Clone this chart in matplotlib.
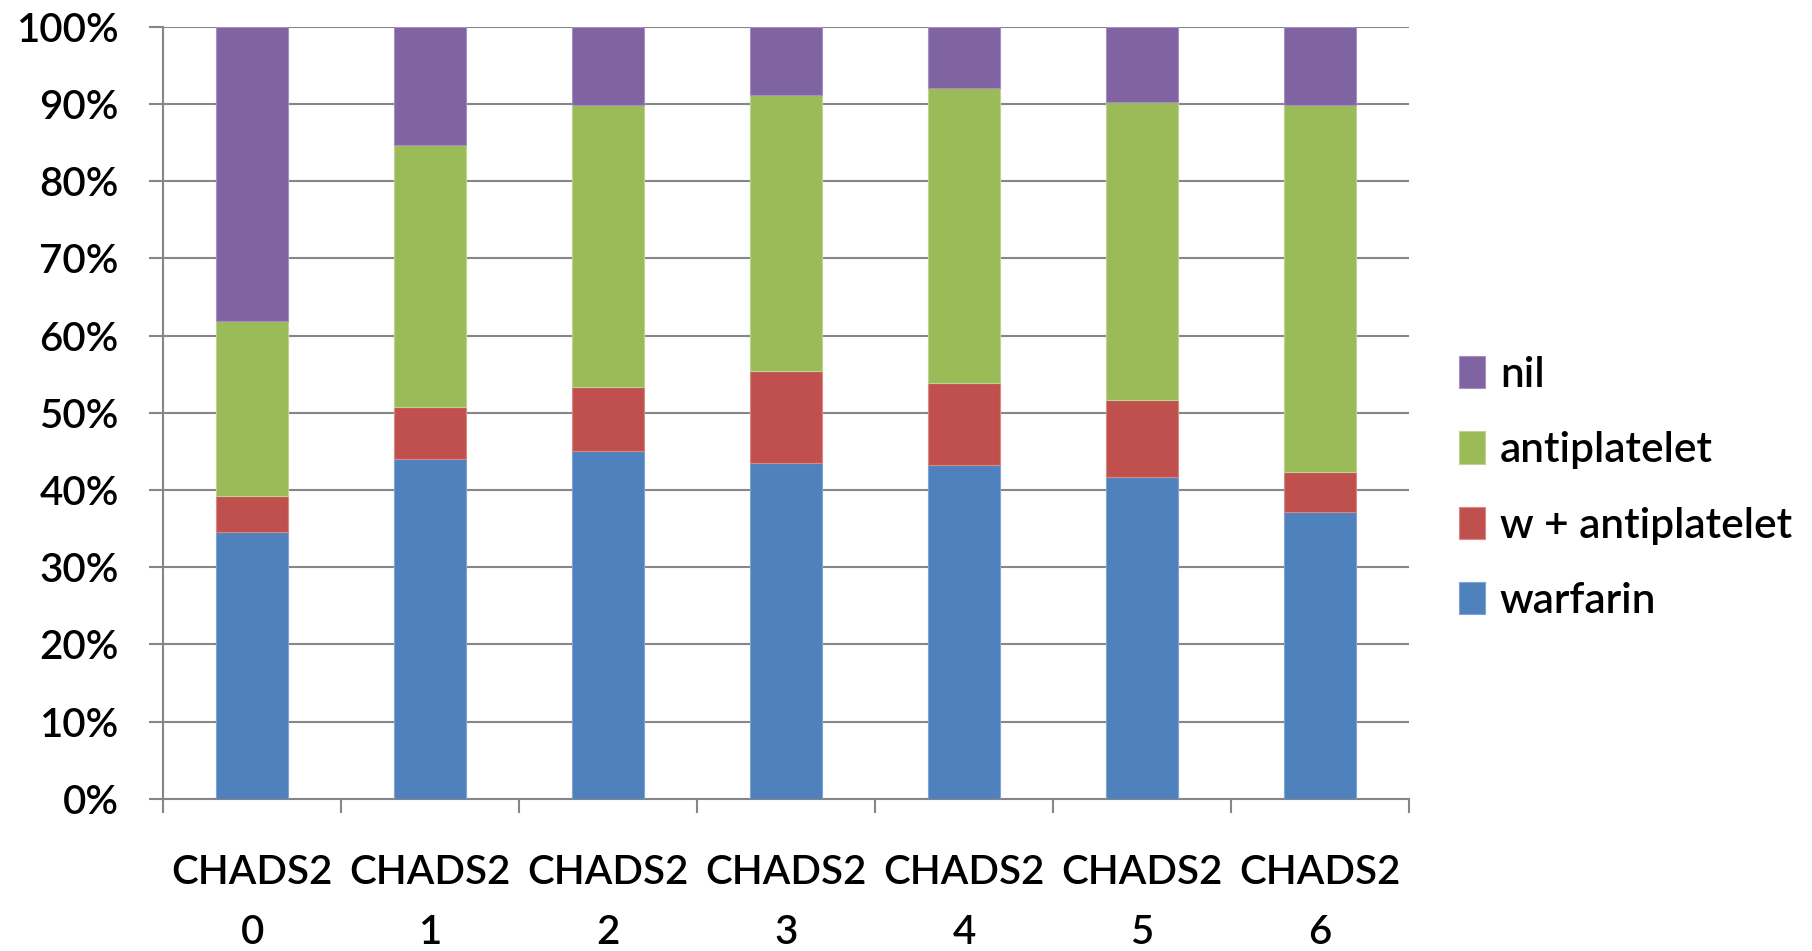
import numpy as np
import matplotlib
matplotlib.use('Agg')
import matplotlib.pyplot as plt
from matplotlib.ticker import FixedLocator, PercentFormatter

plt.rcParams['font.family'] = ['Lato', 'DejaVu Sans']
plt.rcParams['font.weight'] = 'semibold'

categorias = ['CHADS2\n0', 'CHADS2\n1', 'CHADS2\n2', 'CHADS2\n3', 'CHADS2\n4', 'CHADS2\n5', 'CHADS2\n6']
series = ['warfarin', 'w + antiplatelet', 'antiplatelet', 'nil']
warfarin = [34.5, 44.0, 45.1, 43.5, 43.2, 41.7, 37.2]
w_antiplatelet = [4.7, 6.8, 8.2, 11.9, 10.6, 9.9, 5.1]
antiplatelet = [22.7, 33.9, 36.5, 35.7, 38.3, 38.6, 47.5]
nil = [38.1, 15.3, 10.2, 8.9, 7.9, 9.8, 10.2]
colores = ['#4F81BD', '#C0504D', '#9BBB59', '#8064A2']
bordes = ['#7FA3D3', '#D98886', '#BDD490', '#A690C2']

datos = np.array([warfarin, w_antiplatelet, antiplatelet, nil], dtype=float)
# 100% apilado
datos = datos / datos.sum(axis=0) * 100

fig = plt.figure(figsize=(18.12, 9.51), dpi=100)
ax = fig.add_axes([0.090, 0.160, 0.6876, 0.812])

x = np.arange(len(categorias))
base = np.zeros(len(categorias))
for i in range(len(series)):
    ax.bar(x, datos[i], 0.4, bottom=base, color=colores[i], edgecolor=bordes[i],
           linewidth=0.8, label=series[i], zorder=3)
    base = base + datos[i]

ax.set_xlim(-0.5, len(categorias) - 0.5)
ax.set_ylim(0, 100)
ax.set_yticks(np.arange(0, 101, 10))
ax.yaxis.set_major_formatter(PercentFormatter(decimals=0))
ax.grid(axis='y', color='#868686', linewidth=1.5, zorder=0)

for s in ['top', 'right']:
    ax.spines[s].set_visible(False)
ax.spines['left'].set_color('#868686')
ax.spines['bottom'].set_color('#868686')
ax.spines['left'].set_linewidth(1.5)
ax.spines['bottom'].set_linewidth(1.5)

ax.set_xticks(x)
ax.set_xticklabels(categorias, fontsize=29, linespacing=1.75)
ax.xaxis.set_minor_locator(FixedLocator(np.arange(-0.5, len(categorias), 1)))
ax.tick_params(axis='x', which='major', length=0, pad=40)
ax.tick_params(axis='x', which='minor', length=10, width=1.5, color='#868686')
ax.tick_params(axis='y', length=10, width=1.5, color='#868686', labelsize=29, pad=22)

h, l = ax.get_legend_handles_labels()
fig.legend(h[::-1], l[::-1], loc='center left', bbox_to_anchor=(0.7934, 0.487),
           frameon=False, fontsize=30.5, handlelength=0.62, handleheight=0.8,
           handletextpad=0.35, labelspacing=0.88, borderpad=0)

plt.savefig('out.png', dpi=100)
